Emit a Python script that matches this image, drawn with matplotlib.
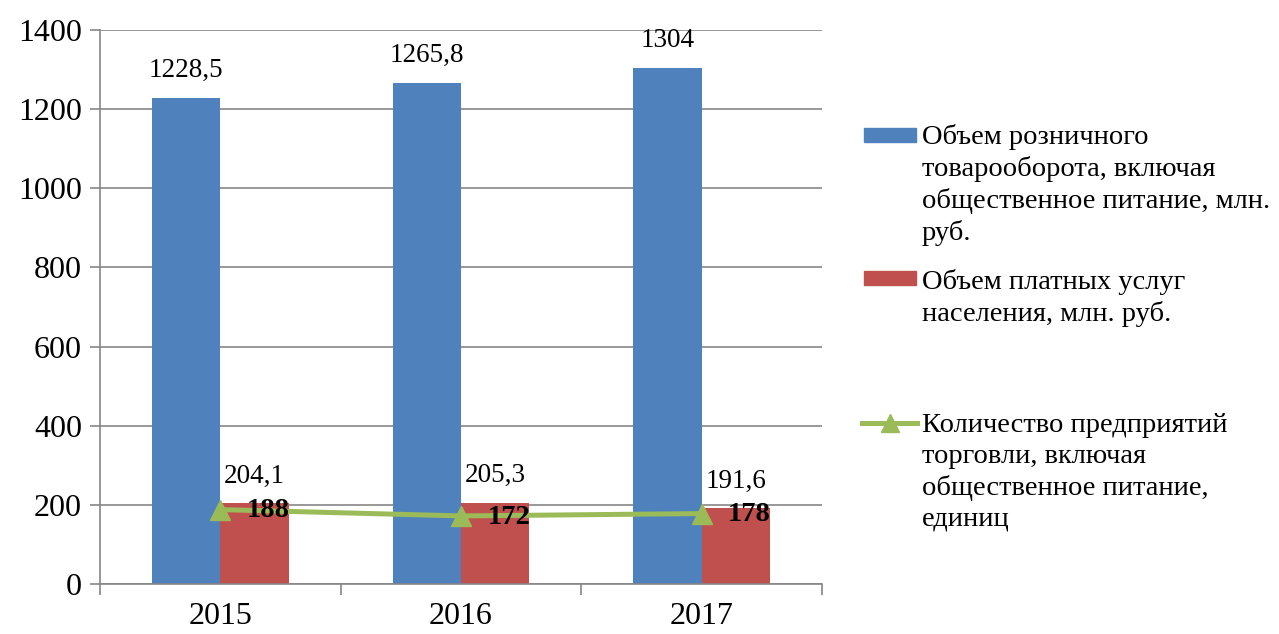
import matplotlib
matplotlib.use("Agg")
import matplotlib.pyplot as plt
from matplotlib.patches import Rectangle
from matplotlib.lines import Line2D
import numpy as np

plt.rcParams['font.family'] = ['Liberation Serif', 'DejaVu Serif']

years = ["2015", "2016", "2017"]
retail = [1228.5, 1265.8, 1304]
services = [204.1, 205.3, 191.6]
enterprises = [188, 172, 178]
retail_labels = ["1228,5", "1265,8", "1304"]
services_labels = ["204,1", "205,3", "191,6"]
enterprises_labels = ["188", "172", "178"]
legend_labels = [
    "Объем розничного\nтоварооборота, включая\nобщественное питание, млн.\nруб.",
    "Объем платных услуг\nнаселения, млн. руб.",
    "Количество предприятий\nторговли, включая\nобщественное питание,\nединиц",
]

BLUE = "#4F81BD"
RED = "#C0504D"
GREEN = "#9BBB59"
GRID = "#868686"

W, H = 1279, 634
fig = plt.figure(figsize=(W / 100, H / 100), dpi=100)
ax = fig.add_axes([100 / W, (H - 584) / H, (822 - 100) / W, (584 - 30) / H])

x = np.arange(len(years))
bw = 0.2846
ax.bar(x - bw / 2, retail, bw, color=BLUE, zorder=2)
ax.bar(x + bw / 2, services, bw, color=RED, zorder=2)
ax.plot(x, enterprises, color=GREEN, lw=3.6, marker="^", markersize=15, zorder=4)

for xi, v, lab in zip(x - bw / 2, retail, retail_labels):
    ax.annotate(lab, (xi, v), xytext=(0, 20), textcoords="offset points",
                ha="center", va="center", fontsize=19.5, zorder=5)
for xi, v, lab in zip(x + bw / 2, services, services_labels):
    ax.annotate(lab, (xi, v), xytext=(0, 19.5), textcoords="offset points",
                ha="center", va="center", fontsize=19.5, zorder=5)
for xi, v, lab in zip(x, enterprises, enterprises_labels):
    ax.annotate(lab, (xi, v), xytext=(19, -1), textcoords="offset points",
                ha="left", va="center", fontsize=20.5, fontweight="bold", zorder=5)

ax.set_ylim(0, 1400)
ax.set_yticks(np.arange(0, 1401, 200))
ax.set_xlim(-0.5, 2.5)
ax.set_xticks(np.arange(-0.5, 2.6, 1.0))
ax.set_xticklabels([])
ax.set_xticks(x, minor=True)
ax.set_xticklabels(years, minor=True)
ax.tick_params(axis="x", which="major", length=8, color=GRID, width=1.2)
ax.tick_params(axis="x", which="minor", length=0, pad=13, labelsize=23)
ax.tick_params(axis="y", length=7, color=GRID, width=1.2, labelsize=23, pad=6)
ax.grid(axis="y", color=GRID, lw=1.2, zorder=0)
ax.set_axisbelow(True)
for s in ["top", "right"]:
    ax.spines[s].set_visible(False)
for s in ["left", "bottom"]:
    ax.spines[s].set_color(GRID)
    ax.spines[s].set_linewidth(1.2)

# legend (drawn manually to match layout)
def fx(px):
    return px / W
def fy(py):
    return 1 - py / H

fig.add_artist(Rectangle((fx(864), fy(142)), fx(916) - fx(864), (142 - 128) / H,
                         color=BLUE, transform=fig.transFigure))
fig.add_artist(Rectangle((fx(864), fy(285)), fx(916) - fx(864), (285 - 271) / H,
                         color=RED, transform=fig.transFigure))
fig.add_artist(Line2D([fx(862), fx(917)], [fy(423), fy(423)], color=GREEN, lw=3.6,
                      transform=fig.transFigure))
fig.add_artist(Line2D([fx(890)], [fy(423)], color=GREEN, marker="^", markersize=13,
                      transform=fig.transFigure))
tops = [124, 269, 413]
for t, lab in zip(tops, legend_labels):
    fig.text(fx(922), fy(t), lab, ha="left", va="top", fontsize=20.5, linespacing=1.3)

fig.savefig("out.png", dpi=100)
